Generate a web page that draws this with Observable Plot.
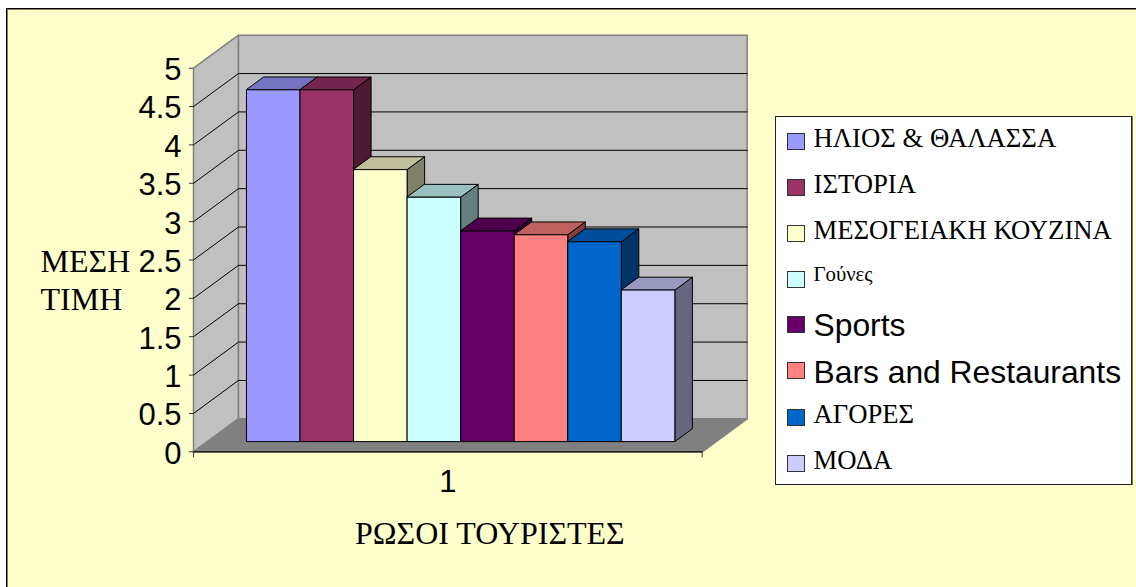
<!DOCTYPE html>
<html lang="el">
<head>
<meta charset="utf-8">
<title>ΡΩΣΟΙ ΤΟΥΡΙΣΤΕΣ</title>
<script src="https://cdn.jsdelivr.net/npm/d3@7"></script>
<script src="https://cdn.jsdelivr.net/npm/@observablehq/plot@0.6"></script>
<style>
  html, body { margin: 0; padding: 0; width: 1136px; height: 587px; overflow: hidden; background: #fff; }
  #frame { position: absolute; left: 6px; top: 8px; width: 1140px; height: 590px; background: #ffffcc; border: 1px solid #000; box-shadow: inset 1px 1px 0 #808060; }
  #chart { position: absolute; left: 0; top: 0; }
  #legend { position: absolute; left: 775px; top: 116px; width: 355px; height: 367px; background: #fff; border: 1px solid #222; box-shadow: 1px 0 0 #777; }
  .row { position: absolute; left: 11px; height: 46px; display: flex; align-items: center; white-space: nowrap; color: #000; }
  .sw { flex: none; width: 16px; height: 15px; border: 1px solid #333; margin-right: 8.5px; position: relative; top: 1px; }
  .row span:last-child { position: relative; }
  .serif { font: 26.7px/1 "Liberation Serif", serif; }
  .serif span:last-child { top: -2px; }
  .small { font: 20.8px/1 "Liberation Serif", serif; }
  .small span:last-child { top: -4px; }
  .sans { font: 31.8px/1 "Liberation Sans", sans-serif; }
  .sans span:last-child { top: 2px; }
  .sans .sw { top: 0; }
</style>
</head>
<body>
<div id="frame"></div>
<div id="chart"></div>
<div id="legend"></div>
<script>
// ---- data ----
const seriesNames = ["ΗΛΙΟΣ & ΘΑΛΑΣΣΑ", "ΙΣΤΟΡΙΑ", "ΜΕΣΟΓΕΙΑΚΗ ΚΟΥΖΙΝΑ", "Γούνες", "Sports", "Bars and Restaurants", "ΑΓΟΡΕΣ", "ΜΟΔΑ"];
const seriesValues = [4.58, 4.58, 3.54, 3.18, 2.74, 2.69, 2.60, 1.97];
const seriesColors = ["#9999ff", "#993366", "#ffffcc", "#ccffff", "#660066", "#ff8080", "#0066cc", "#ccccff"];
const legendClasses = ["serif", "serif", "serif", "small", "sans", "sans", "serif", "serif"];
const yTicks = [0, 0.5, 1, 1.5, 2, 2.5, 3, 3.5, 4, 4.5, 5];
const categoryLabel = "1";
const xTitle = "ΡΩΣΟΙ ΤΟΥΡΙΣΤΕΣ";
const yTitle = "ΜΕΣΗ\nΤΙΜΗ";

// ---- 3-D construction, in data units ----
const gap = 0.75;                       // half of Excel's 150% gap width, in bar widths
const xMax = seriesValues.length + 2 * gap;
const yMax = 5;
const depthX = 0.84, depthY = 0.43;     // oblique shift of the back plane, in data units
const zFront = 0.30, zBack = 0.69;      // depth span of the bars

const project = (x, y, z) => ({x: x + z * depthX, y: y + z * depthY});
const shade = (c, k) => { const r = d3.rgb(c); return d3.rgb(r.r * k, r.g * k, r.b * k).formatHex(); };
const poly = (id, fill, pts) => pts.map(([x, y, z]) => ({id, fill, ...project(x, y, z)}));

const wallFaces = [
  ...poly("left", "#c0c0c0", [[0, 0, 0], [0, yMax, 0], [0, yMax, 1], [0, 0, 1]]),
  ...poly("back", "#c0c0c0", [[0, 0, 1], [0, yMax, 1], [xMax, yMax, 1], [xMax, 0, 1]]),
  ...poly("floor", "#808080", [[0, 0, 0], [xMax, 0, 0], [xMax, 0, 1], [0, 0, 1]])
];
const gridLines = yTicks.filter(t => t > 0 && t < yMax).flatMap(t => poly("g" + t, "none", [[0, t, 0], [0, t, 1], [xMax, t, 1]]));
const floorEdge = poly("edge", "none", [[0, 0, 0], [xMax, 0, 0]]);

const barFaces = seriesValues.flatMap((v, i) => {
  const a = gap + i, b = a + 1, c = seriesColors[i];
  return [
    ...poly(`side${i}`, shade(c, 0.5), [[b, 0, zFront], [b, v, zFront], [b, v, zBack], [b, 0, zBack]]),
    ...poly(`top${i}`, shade(c, 0.75), [[a, v, zFront], [b, v, zFront], [b, v, zBack], [a, v, zBack]]),
    ...poly(`front${i}`, c, [[a, 0, zFront], [a, v, zFront], [b, v, zFront], [b, 0, zFront]])
  ];
});

const faceOpts = {x: "x", y: "y", z: "id", fill: "fill", curve: "linear-closed"};
const serif = "'Liberation Serif', serif";

const chart = Plot.plot({
  width: 1136,
  height: 587,
  marginLeft: 193,
  marginRight: 434.3,
  marginTop: 67.7,
  marginBottom: 135.7,
  style: {background: "transparent", overflow: "visible", fontFamily: "'Liberation Sans', sans-serif", color: "#000"},
  x: {type: "linear", domain: [0, xMax]},
  y: {type: "linear", domain: [0, yMax]},
  color: {type: "identity"},
  marks: [
    Plot.line(wallFaces, {...faceOpts, stroke: "#808080", strokeWidth: 1.5}),
    Plot.line(gridLines, {x: "x", y: "y", z: "id", stroke: "#000", strokeWidth: 1}),
    Plot.line(floorEdge, {x: "x", y: "y", z: "id", stroke: "#000", strokeWidth: 1.2}),
    Plot.line(barFaces, {...faceOpts, stroke: "#000", strokeWidth: 1, dx: -0.7, dy: -0.7}),
    Plot.axisY({ticks: yTicks, tickFormat: () => "", tickSize: 4, label: null, stroke: "#333"}),
    Plot.axisY({ticks: yTicks, tickFormat: d => String(d), tickSize: 0, tickPadding: 12, dy: 2, fontSize: 31, label: null}),
    Plot.axisX({ticks: [0, xMax], tickFormat: () => "", tickSize: 6, label: null, stroke: "#333"}),
    Plot.axisX({ticks: [xMax / 2], tickFormat: () => categoryLabel, tickSize: 0, tickPadding: 18, fontSize: 31, label: null}),
    Plot.text([xTitle], {frameAnchor: "bottom", dy: 92, dx: 42, fontFamily: serif, fontSize: 32, fill: "#000"}),
    Plot.text([yTitle], {frameAnchor: "left", textAnchor: "start", dx: -153, dy: 19, lineHeight: 1.2, fontFamily: serif, fontSize: 32, fill: "#000"})
  ]
});
document.getElementById("chart").append(chart);

// ---- legend ----
const legend = document.getElementById("legend");
seriesNames.forEach((name, i) => {
  const row = document.createElement("div");
  row.className = "row " + legendClasses[i];
  row.style.top = `${i * 46.1}px`;
  const sw = document.createElement("span");
  sw.className = "sw";
  sw.style.background = seriesColors[i];
  const tx = document.createElement("span");
  tx.textContent = name;
  row.append(sw, tx);
  legend.append(row);
});
</script>
</body>
</html>
